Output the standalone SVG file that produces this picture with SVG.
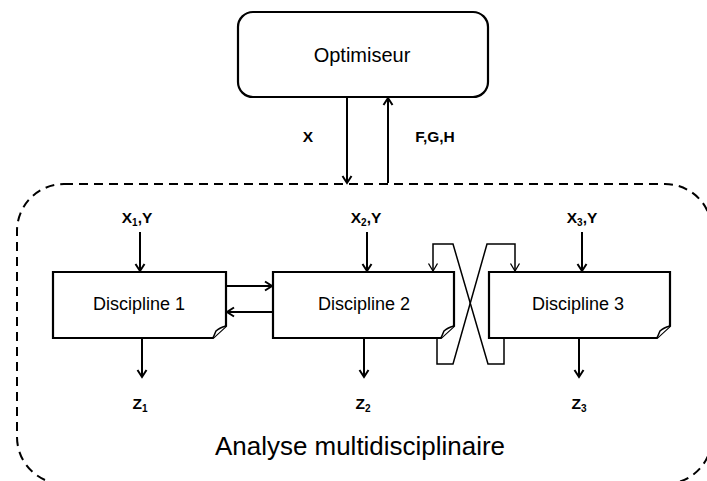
<svg xmlns="http://www.w3.org/2000/svg" width="707" height="481" viewBox="0 0 707 481">
<defs>
<marker id="ah" markerUnits="userSpaceOnUse" markerWidth="12" markerHeight="12" refX="9" refY="6" orient="auto">
<path d="M2,1.5 L9,6 L2,10.5" fill="none" stroke="#000" stroke-width="2"/>
</marker>
<marker id="ahs" markerUnits="userSpaceOnUse" markerWidth="12" markerHeight="12" refX="9" refY="6" orient="auto">
<path d="M1.5,1.5 L9,6 L1.5,10.5" fill="none" stroke="#000" stroke-width="1.3"/>
</marker>
<style>
.box{fill:#fff;stroke:#000;stroke-width:2.2}
.fold{fill:#fff;stroke:#000;stroke-width:1.5}
.main{fill:none;stroke:#000;stroke-width:2;marker-end:url(#ah)}
.thin{fill:none;stroke:#000;stroke-width:1.5;marker-end:url(#ahs)}
.lbl{font-family:"Liberation Sans",Arial,sans-serif;font-weight:bold;font-size:15.5px;fill:#000;text-anchor:middle}
.sub{font-size:10px}
.nt{font-family:"Liberation Sans",Arial,sans-serif;font-size:18px;fill:#000;text-anchor:middle}
</style>
</defs>
<g id="mda-boundary">
<rect x="17" y="184" width="695" height="300" rx="47" ry="47" fill="none" stroke="#000" stroke-width="2" stroke-dasharray="9 6"/>
<text x="360" y="455" font-family="Liberation Sans,Arial,sans-serif" font-size="25" text-anchor="middle" textLength="290" lengthAdjust="spacingAndGlyphs">Analyse multidisciplinaire</text>
</g>
<g id="optimiseur">
<rect class="box" x="238" y="12" width="250" height="85" rx="15" ry="15"/>
<text class="nt" x="362" y="62" style="font-size:20px">Optimiseur</text>
</g>
<g id="discipline1">
<path class="box" d="M53,272 H226 V326 L213,338 H53 Z"/>
<path class="fold" d="M213,338 L216,331 Q219,328 226,326"/>
<text class="nt" x="139" y="310">Discipline 1</text>
</g>
<g id="discipline2">
<path class="box" d="M273,272 H454 V326 L441,338 H273 Z"/>
<path class="fold" d="M441,338 L444,331 Q447,328 454,326"/>
<text class="nt" x="364" y="310">Discipline 2</text>
</g>
<g id="discipline3">
<path class="box" d="M489,272 H670 V326 L657,338 H489 Z"/>
<path class="fold" d="M657,338 L660,331 Q663,328 670,326"/>
<text class="nt" x="578" y="310">Discipline 3</text>
</g>
<g id="connectors">
<path class="main" d="M347,97 V183"/>
<path class="main" d="M388,183 V98"/>
<path class="main" d="M140,232 V271"/>
<path class="main" d="M367,232 V271"/>
<path class="main" d="M582,232 V271"/>
<path class="main" d="M226,286 H272"/>
<path class="main" d="M273,312 H227"/>
<path class="main" d="M142,338 V377"/>
<path class="main" d="M364,338 V377"/>
<path class="main" d="M579,338 V377"/>
<path class="thin" d="M504,338 V364 H488 L453,244 H433 V271"/>
<path class="thin" d="M437,338 V364 H453 L487,244 H515 V271"/>
</g>
<g id="labels">
<text class="lbl" x="308" y="142">X</text>
<text class="lbl" x="435" y="142">F,G,H</text>
<text class="lbl" x="137" y="223">X<tspan class="sub" dy="3">1</tspan><tspan dy="-3">,Y</tspan></text>
<text class="lbl" x="366" y="223">X<tspan class="sub" dy="3">2</tspan><tspan dy="-3">,Y</tspan></text>
<text class="lbl" x="582" y="223">X<tspan class="sub" dy="3">3</tspan><tspan dy="-3">,Y</tspan></text>
<text class="lbl" x="140" y="409">Z<tspan class="sub" dy="3">1</tspan></text>
<text class="lbl" x="363" y="409">Z<tspan class="sub" dy="3">2</tspan></text>
<text class="lbl" x="579" y="409">Z<tspan class="sub" dy="3">3</tspan></text>
</g>
</svg>
